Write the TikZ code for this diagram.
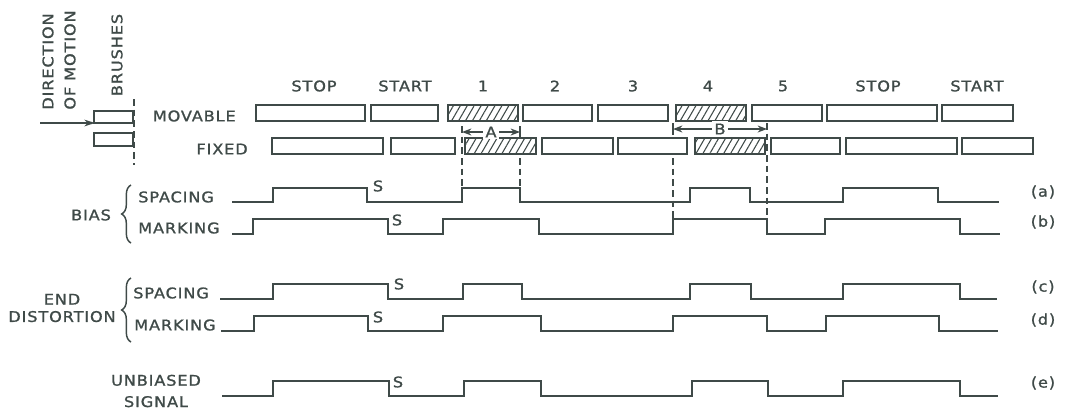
\documentclass[tikz,border=0pt]{standalone}
\usepackage{fontspec}
\setmainfont{DejaVu Sans}[FakeStretch=1.1,LetterSpace=6,FakeBold=1.2]
\usetikzlibrary{arrows.meta,decorations.pathreplacing,patterns.meta}
\definecolor{ink}{HTML}{3F4A48}

\begin{document}
\begin{tikzpicture}[x=0.75pt,y=-0.75pt,>=Stealth,
    every node/.style={text=ink,font=\fontsize{11}{13}\selectfont,inner sep=0pt},
    box/.style={draw=ink,line width=1.4pt},
    hatched/.style={box,pattern={Lines[angle=60,distance=4.5pt,line width=0.8pt]},pattern color=ink},
    wave/.style={draw=ink,line width=1.7pt},
    guide/.style={draw=ink,line width=0.9pt,dash pattern=on 5pt off 3pt},
    tick/.style={draw=ink,line width=0.9pt},
    brace/.style={draw=ink,line width=1.1pt,decorate,decoration={brace,amplitude=7pt}}]
  \useasboundingbox (0,0) rectangle (1066,411);

  % brushes and motion
  \node[rotate=90,align=left,font=\fontsize{11}{16.5}\selectfont] (motion) at (59,60) {DIRECTION\\OF MOTION};
  \node[rotate=90] (brushes) at (117,55) {BRUSHES};
  \coordinate (tail) at (40,123);
  \coordinate (head) at (95,123);
  \draw[-{Stealth[length=8pt,width=5pt]},ink,line width=1.2pt] (tail) -- (head);
  \draw[box] (94,111) rectangle (133,123);
  \draw[box] (94,133) rectangle (133,146);
  \draw[guide] (134,99) -- (134,165);

  % segments
  \node[anchor=east] (movable) at (236,116) {MOVABLE};
  \node[anchor=east] (fixed) at (248,149) {FIXED};
  \foreach \xa/\xb in {256/365,371/438,523/592,598/668,752/822,827/937,942/1013}
    \draw[box] (\xa,105) rectangle (\xb,121);
  \foreach \xa/\xb in {448/518,676/746}
    \path[hatched] (\xa,105) rectangle (\xb,121);
  \foreach \xa/\xb in {272/383,391/455,542/613,618/687,771/840,846/957,962/1033}
    \draw[box] (\xa,138) rectangle (\xb,154);
  \foreach \xa/\xb in {465/536,695/765}
    \path[hatched] (\xa,138) rectangle (\xb,154);
  \foreach \t/\x/\n in {STOP/314/stopa,START/405/starta,1/483/one,2/555/two,3/633/three,4/708/four,5/783/five,STOP/878/stopb,START/977/startb}
    \node (\n) at (\x,86) {\t};

  % dimensions A and B
  \coordinate (aL) at (462,132);
  \coordinate (aR) at (520,132);
  \coordinate (bL) at (673,129);
  \coordinate (bR) at (767,129);
  \draw[<->,ink,line width=0.9pt] (aL) -- node[fill=white,inner sep=1.5pt] (dimA) {A} (aR);
  \draw[<->,ink,line width=0.9pt] (bL) -- node[fill=white,inner sep=2pt] (dimB) {B} (bR);
  \draw[tick] (520,126) -- (520,138);
  \draw[tick] (673,123) -- (673,135);
  \draw[guide] (462,126) -- (462,188);
  \draw[guide] (520,158) -- (520,188);
  \draw[guide] (673,158) -- (673,219);
  \draw[guide] (767,123) -- (767,219);

  % labels on the left
  \node (bias) at (91,215) {BIAS};
  \draw[brace] (131,243) -- (131,185);
  \node[anchor=west] (spa) at (138,197) {SPACING};
  \node[anchor=west] (mka) at (138,228) {MARKING};
  \node[align=center] (endd) at (62,308) {END\\DISTORTION};
  \draw[brace] (131,342) -- (131,278);
  \node[anchor=west] (spb) at (133,293) {SPACING};
  \node[anchor=west] (mkb) at (134,325) {MARKING};
  \node[align=center] (unb) at (156,391) {UNBIASED\\[3pt]SIGNAL};

  % signals
  \draw[wave] (232,202) -| (273,188) -| (367,202) -| (462,188) -| (520,202) -| (690,188) -| (750,202) -| (843,188) -| (938,202) -- (999,202);
  \draw[wave] (232,234) -| (253,219) -| (388,234) -| (443,219) -| (539,234) -| (673,219) -| (767,234) -| (825,219) -| (960,234) -- (1000,234);
  \draw[wave] (220,299) -| (273,284) -| (388,299) -| (463,284) -| (522,299) -| (690,284) -| (751,299) -| (843,284) -| (960,299) -- (997,299);
  \draw[wave] (221,331) -| (254,316) -| (368,331) -| (443,316) -| (541,331) -| (673,316) -| (767,331) -| (826,316) -| (939,331) -- (998,331);
  \draw[wave] (222,396) -| (273,381) -| (389,396) -| (464,381) -| (541,396) -| (692,381) -| (768,396) -| (843,381) -| (960,396) -- (998,396);
  \foreach \x/\y/\n in {378/186/sa,397/220/sb,399/284/sc,378/317/sd,398/382/se}
    \node (\n) at (\x,\y) {S};
  \foreach \t/\y in {a/192,b/222,c/287,d/320,e/383}
    \node (lbl\t) at (1043,\y) {(\t)};
\end{tikzpicture}
\end{document}
